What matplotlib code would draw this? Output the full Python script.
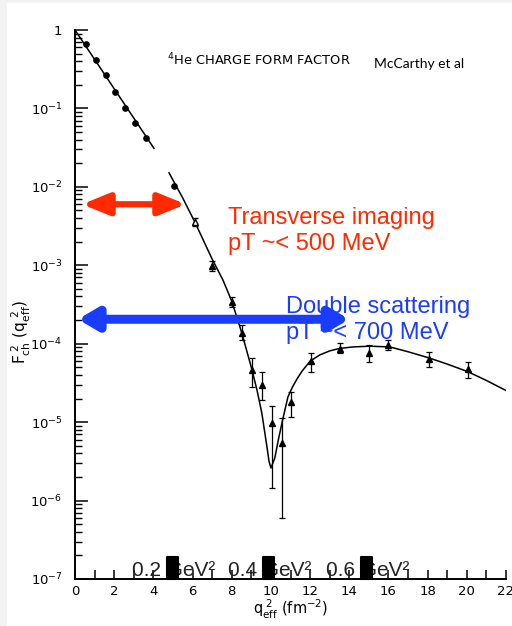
import matplotlib.pyplot as plt
from matplotlib.patches import Rectangle
from matplotlib.ticker import LogLocator, MultipleLocator, NullFormatter

# measured points, low q (filled circles, no error bars)
q_low = [0.56, 1.07, 1.6, 2.03, 2.55, 3.07, 3.6, 5.05]
f_low = [0.66, 0.417, 0.266, 0.162, 0.101, 0.0646, 0.0417, 0.0102]

# open triangle point
q_open = [6.12]
f_open = [3.55e-3]
f_open_lo = [3.2e-3]
f_open_hi = [4.0e-3]

# triangles with error bars
q_tri = [7.0, 8.0, 8.52, 9.03, 9.54, 10.05, 10.56, 11.02, 12.04, 13.52, 15.0, 16.0, 18.06, 20.05]
f_tri = [9.8e-4, 3.4e-4, 1.35e-4, 4.6e-5, 2.95e-5, 9.8e-6, 5.4e-6, 1.8e-5, 6.0e-5, 8.5e-5, 7.6e-5, 9.5e-5, 6.3e-5, 4.8e-5]
f_tri_lo = [8.5e-4, 2.9e-4, 1.12e-4, 2.8e-5, 1.9e-5, 1.45e-6, 6.0e-7, 1.15e-5, 4.4e-5, 7.6e-5, 5.9e-5, 8.3e-5, 5.1e-5, 3.7e-5]
f_tri_hi = [1.13e-3, 3.9e-4, 1.74e-4, 6.6e-5, 4.4e-5, 1.6e-5, 1.12e-5, 2.4e-5, 7.6e-5, 1.02e-4, 9.5e-5, 1.12e-4, 7.8e-5, 5.9e-5]

# theory curve, first piece and second piece
curve1_q = [0.0, 4.03]
curve1_f = [1.0, 0.031]
curve2_q = [4.8, 5.5, 6.12, 7.0, 7.55, 8.0, 8.5, 9.0, 9.3, 9.54, 9.8, 9.9, 10.0, 10.1, 10.2,
            10.4, 10.6, 10.87, 11.1, 11.33, 11.6, 12.0, 12.5, 13.0, 13.5, 14.2, 15.05, 16.07,
            17.0, 18.06, 19.0, 20.05, 21.0, 22.04]
curve2_f = [1.51e-2, 7.2e-3, 3.55e-3, 1.2e-3, 6.5e-4, 3.5e-4, 1.41e-4, 5.0e-5, 2.5e-5, 1.29e-5,
            4.8e-6, 3.2e-6, 2.6e-6, 3.0e-6, 3.5e-6, 6.3e-6, 1.07e-5, 2.1e-5, 2.8e-5, 3.55e-5,
            4.5e-5, 6.0e-5, 7.2e-5, 8.1e-5, 8.7e-5, 9.1e-5, 9.3e-5, 9.1e-5, 7.9e-5, 6.6e-5,
            5.5e-5, 4.4e-5, 3.4e-5, 2.5e-5]

ytick_vals = [1e-7, 1e-6, 1e-5, 1e-4, 1e-3, 1e-2, 1e-1, 1]
ytick_labels = ["$10^{-7}$", "$10^{-6}$", "$10^{-5}$", "$10^{-4}$", "$10^{-3}$",
                "$10^{-2}$", "$10^{-1}$", "1"]
xtick_vals = list(range(0, 23, 2))

# overlay annotations
red_arrow_q = [0.36, 5.66]
red_arrow_f = 6.0e-3
blue_arrow_q = [0.15, 14.0]
blue_arrow_f = 2.05e-4
gev_labels = ["0.2 GeV²", "0.4 GeV²", "0.6 GeV²"]
gev_label_q = [2.9, 7.8, 12.8]
gev_box_q = [4.97, 9.87, 14.9]

fig = plt.figure(figsize=(5.12, 6.26), dpi=100)
fig.patch.set_facecolor("#f3f3f3")
fig.patches.append(Rectangle((7 / 512, 0), 1, 1 - 3 / 626, transform=fig.transFigure,
                             facecolor="white", edgecolor="none", zorder=-10))

ax = fig.add_axes([75 / 512, 1 - 579 / 626, 431 / 512, 549 / 626])
ax.set_facecolor("none")
ax.set_yscale("log")
ax.set_xlim(0, 22)
ax.set_ylim(1e-7, 1)
for s in ["top", "right"]:
    ax.spines[s].set_visible(False)
for s in ["left", "bottom"]:
    ax.spines[s].set_linewidth(1.4)

ax.set_yticks(ytick_vals)
ax.set_yticklabels(ytick_labels)
ax.yaxis.set_minor_locator(LogLocator(base=10, subs=range(2, 10), numticks=20))
ax.yaxis.set_minor_formatter(NullFormatter())
ax.set_xticks(xtick_vals)
ax.xaxis.set_minor_locator(MultipleLocator(1))
ax.tick_params(axis="y", which="major", direction="in", length=9, width=1.1, pad=9, labelsize=9.5)
ax.tick_params(axis="y", which="minor", direction="in", length=5, width=1.0)
ax.tick_params(axis="x", which="both", direction="in", length=6.5, width=1.1, pad=4, labelsize=9.5)

# curve
ax.plot(curve1_q, curve1_f, color="black", lw=1.1)
ax.plot(curve2_q, curve2_f, color="black", lw=1.1)

# data
ax.plot(q_low, f_low, "o", color="black", ms=3.8)
ax.errorbar(q_open, f_open,
            yerr=[[f - l for f, l in zip(f_open, f_open_lo)], [h - f for f, h in zip(f_open, f_open_hi)]],
            fmt="^", mfc="white", mec="black", ms=4, ecolor="black", elinewidth=0.9, capsize=2.5)
ax.errorbar(q_tri, f_tri,
            yerr=[[f - l for f, l in zip(f_tri, f_tri_lo)], [h - f for f, h in zip(f_tri, f_tri_hi)]],
            fmt="^", color="black", ms=3.8, ecolor="black", elinewidth=0.9, capsize=2.5, capthick=0.9)

# arrows
ax.annotate("", xy=(red_arrow_q[0], red_arrow_f), xytext=(red_arrow_q[1], red_arrow_f),
            arrowprops=dict(arrowstyle="<|-|>,head_length=1.6,head_width=0.65", color="#ff2a00",
                            lw=4.5, shrinkA=0, shrinkB=0))
ax.annotate("", xy=(blue_arrow_q[0], blue_arrow_f), xytext=(blue_arrow_q[1], blue_arrow_f),
            arrowprops=dict(arrowstyle="<|-|>,head_length=1.1,head_width=0.65", color="#1a3cff",
                            lw=6.5, shrinkA=0, shrinkB=0))

ax.text(7.8, 2.75e-3, "Transverse imaging\npT ~< 500 MeV", color="#ff2a00", fontsize=17,
        family="Liberation Sans", ha="left", va="center", linespacing=1.2)
ax.text(10.77, 2.0e-4, "Double scattering\npT ~< 700 MeV", color="#1a3cff", fontsize=17,
        family="Liberation Sans", ha="left", va="center", linespacing=1.2)

for q, lab in zip(gev_label_q, gev_labels):
    ax.text(q, 1.1e-7, lab, fontsize=15, family="Liberation Sans", color="#222222",
            ha="left", va="baseline")
for q in gev_box_q:
    ax.add_patch(Rectangle((q - 0.28, 1.0e-7), 0.56, 0.92e-7, facecolor="black",
                           edgecolor="black", lw=1.5, joinstyle="round", clip_on=False, zorder=5))

fig.text(167 / 512, 1 - 60 / 626, "$^4$He CHARGE FORM FACTOR", fontsize=9.4, va="center", ha="left")
fig.text(374 / 512, 1 - 64 / 626, "McCarthy et al", fontsize=10, family="Lato", va="center", ha="left")
fig.text(291 / 512, 1 - 609 / 626, r"$\mathregular{q_{eff}^{\ 2}\ (fm^{-2})}$", fontsize=10.5,
         ha="center", va="center")
fig.text(21 / 512, 1 - 332 / 626, r"$\mathregular{F_{ch}^{\ 2}\ (q_{eff}^{\ 2})}$", fontsize=11,
         ha="center", va="center", rotation=90)

fig.savefig("out.png", dpi=100, facecolor=fig.get_facecolor())
